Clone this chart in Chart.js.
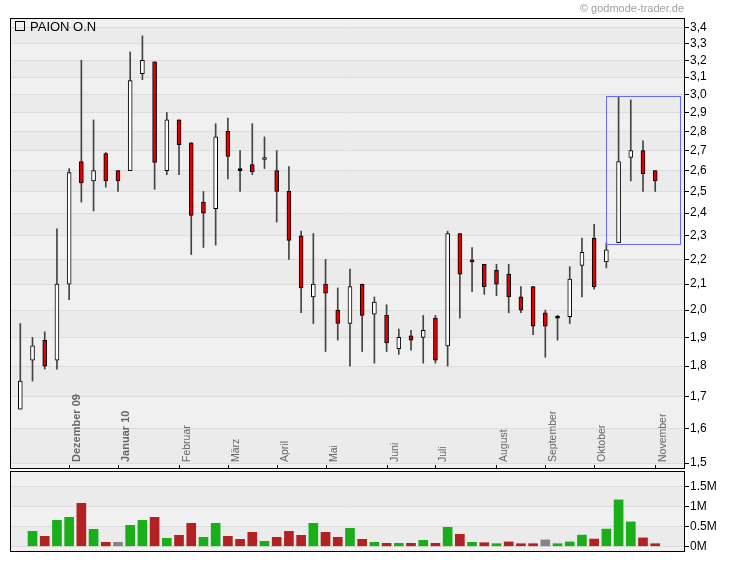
<!DOCTYPE html>
<html>
<head>
<meta charset="utf-8">
<script src="https://cdn.jsdelivr.net/npm/chart.js@4.4.0/dist/chart.umd.min.js"></script>
<style>
body { margin: 0; background: #fff; }
#wrap { position: relative; width: 730px; height: 564px; }
canvas { position: absolute; left: 0; }
#price { top: 0; }
#vol { top: 470px; }
</style>
</head>
<body>
<div id="wrap">
<canvas id="price" width="730" height="470"></canvas>
<canvas id="vol" width="730" height="94"></canvas>
</div>
<script>
// weekly candles, Nov 2009 - Nov 2010
const opens  = [1.66,1.82,1.89,1.82,2.10,2.645,2.55,2.685,2.60,2.60,3.12,3.19,2.60,2.86,2.74,2.45,2.42,2.80,2.60,2.63,2.655,2.60,2.50,2.30,2.05,2.10,2.00,1.95,2.10,1.985,1.98,1.86,1.905,1.90,1.97,1.87,2.31,2.195,2.18,2.155,2.14,2.05,2.09,1.99,1.97,1.975,2.175,2.29,2.19,2.27,2.665,2.70,2.60];
const highs  = [1.95,1.90,1.92,2.33,2.61,3.20,2.86,2.69,2.60,3.25,3.35,3.19,2.90,2.86,2.74,2.50,2.84,2.87,2.70,2.84,2.77,2.70,2.62,2.32,2.31,2.20,2.085,2.16,2.10,2.05,2.02,1.93,1.925,1.98,1.98,2.32,2.31,2.25,2.18,2.18,2.18,2.09,2.09,2.00,1.98,2.17,2.29,2.35,2.27,2.99,2.97,2.75,2.60];
const lows   = [1.66,1.75,1.79,1.79,2.04,2.45,2.41,2.52,2.50,2.60,3.085,2.51,2.58,2.58,2.22,2.25,2.26,2.56,2.50,2.58,2.61,2.36,2.20,1.99,1.95,1.85,1.89,1.80,1.85,1.81,1.85,1.84,1.855,1.81,1.81,1.80,1.97,2.07,2.06,2.055,1.99,1.99,1.91,1.83,1.89,1.95,2.05,2.08,2.165,2.27,2.55,2.50,2.50];
const closes = [1.75,1.87,1.80,2.10,2.59,2.54,2.60,2.55,2.55,3.08,3.20,2.64,2.86,2.73,2.39,2.40,2.77,2.67,2.60,2.595,2.665,2.50,2.28,2.085,2.10,2.065,1.95,2.09,1.98,2.03,1.88,1.90,1.89,1.925,1.82,2.31,2.14,2.19,2.09,2.10,2.05,2.00,1.94,1.94,1.97,2.12,2.23,2.09,2.24,2.645,2.70,2.585,2.55];
const volumes = [0,375000,250000,650000,725000,1075000,425000,100000,100000,525000,650000,725000,200000,275000,575000,225000,575000,250000,175000,350000,125000,225000,375000,275000,575000,350000,225000,450000,175000,100000,75000,75000,75000,150000,75000,475000,300000,100000,90000,65000,110000,65000,65000,160000,65000,110000,280000,180000,430000,1160000,610000,210000,65000];

const monthNames = ['Dezember 09','Januar 10','Februar','März','April','Mai','Juni','Juli','August','September','Oktober','November'];
const monthIdx   = [4,8,13,17,21,25,30,34,39,43,47,52];
const monthBold  = [true,true,false,false,false,false,false,false,false,false,false,false];

const priceTicks = [1.5,1.6,1.7,1.8,1.9,2.0,2.1,2.2,2.3,2.4,2.5,2.6,2.7,2.8,2.9,3.0,3.1,3.2,3.3,3.4];
const volTicks = [0,500000,1000000,1500000];

// marked zone (index range, price range)
const boxX = [48, 54];
const boxY = [2.265, 2.99];

const X_MIN = -0.844, X_MAX = 54.44;
const FONT = 'Liberation Sans, Arial, sans-serif';
Chart.defaults.font.family = FONT;

const idx = opens.map((_, i) => i);
const bodyColor = idx.map(i => closes[i] > opens[i] ? '#ffffff' : closes[i] < opens[i] ? '#e00000' : '#000000');
const volColor = idx.map(i => {
  if (!volumes[i]) return 'rgba(0,0,0,0)';
  if (i === 0 || closes[i] > closes[i-1]) return '#1aae1a';
  if (closes[i] < closes[i-1]) return '#b22222';
  return '#858585';
});

function bandPlugin(id) {
  return {
    id: id,
    beforeDraw(chart) {
      const {ctx, chartArea: a, scales: {y}} = chart;
      const edges = [a.top, a.bottom];
      y.ticks.forEach(t => edges.push(y.getPixelForValue(t.value)));
      edges.sort((p, q) => p - q);
      ctx.save();
      for (let k = 0; k < edges.length - 1; k++) {
        ctx.fillStyle = k % 2 === 0 ? '#f0f0f0' : '#ebebeb';
        ctx.fillRect(a.left, edges[k], a.right - a.left, edges[k+1] - edges[k]);
      }
      ctx.restore();
    }
  };
}

const framePlugin = {
  id: 'frame',
  afterDraw(chart) {
    const {ctx, chartArea: a} = chart;
    ctx.save();
    ctx.strokeStyle = '#000';
    ctx.lineWidth = 1;
    ctx.strokeRect(a.left + 0.5, a.top + 0.5, a.right - a.left - 1, a.bottom - a.top);
    ctx.restore();
  }
};

const pricePlugin = {
  id: 'priceExtras',
  beforeDatasetsDraw(chart) {
    const {ctx, chartArea: a, scales: {x}} = chart;
    ctx.save();
    ctx.fillStyle = '#666';
    monthIdx.forEach((m, k) => {
      const px = Math.round(x.getPixelForValue(m));
      ctx.save();
      ctx.translate(px + 11, a.bottom - 6);
      ctx.rotate(-Math.PI / 2);
      ctx.font = (monthBold[k] ? 'bold 11px ' : '10.5px ') + FONT;
      ctx.textAlign = 'left';
      ctx.fillText(monthNames[k], 0, 0);
      ctx.restore();
    });
    ctx.restore();
  },
  afterDatasetsDraw(chart) {
    const {ctx, chartArea: a, scales: {x, y}} = chart;
    ctx.save();
    // month ticks
    ctx.strokeStyle = '#000';
    ctx.lineWidth = 1;
    monthIdx.forEach(m => {
      const px = Math.round(x.getPixelForValue(m)) + 0.5;
      ctx.beginPath();
      ctx.moveTo(px, a.bottom - 3);
      ctx.lineTo(px, a.bottom);
      ctx.stroke();
    });
    // zone box
    const x0 = Math.round(x.getPixelForValue(boxX[0])) + 0.5;
    const x1 = Math.round(x.getPixelForValue(boxX[1])) + 0.5;
    const y0 = Math.round(y.getPixelForValue(boxY[1])) + 0.5;
    const y1 = Math.round(y.getPixelForValue(boxY[0])) + 0.5;
    ctx.strokeStyle = '#6868ff';
    ctx.strokeRect(x0, y0, x1 - x0, y1 - y0);
    // legend
    ctx.strokeStyle = '#000';
    ctx.strokeRect(15.5, 21.5, 9, 9);
    ctx.fillStyle = '#000';
    ctx.font = '13px ' + FONT;
    ctx.textAlign = 'left';
    ctx.fillText('PAION O.N', 30, 31);
    // source
    ctx.fillStyle = '#a0a0a0';
    ctx.font = '11px ' + FONT;
    ctx.textAlign = 'right';
    ctx.fillText('\u00a9 godmode-trader.de', 684, 12);
    ctx.restore();
  }
};

function rightAxisFit(s) {
  s.width = 45;
  s.paddingTop = 0;
  s.paddingBottom = 0;
}

const xScale = {type: 'linear', min: X_MIN, max: X_MAX, offset: false, display: false, grid: {offset: false}};

new Chart(document.getElementById('price'), {
  type: 'bar',
  data: {
    datasets: [
      {
        data: idx.map(i => ({x: i, y: [lows[i], highs[i]]})),
        backgroundColor: '#444444',
        barThickness: 1,
        grouped: false,
        order: 2
      },
      {
        data: idx.map(i => ({x: i, y: [opens[i], closes[i]]})),
        backgroundColor: bodyColor,
        borderColor: '#000',
        borderWidth: 1,
        borderSkipped: false,
        barThickness: 4,
        minBarLength: 2,
        grouped: false,
        order: 1
      }
    ]
  },
  options: {
    responsive: false,
    animation: false,
    devicePixelRatio: 1,
    layout: {padding: {left: 10, top: 18, bottom: 2, right: 0}},
    plugins: {legend: {display: false}, tooltip: {enabled: false}},
    scales: {
      x: xScale,
      y: {
        type: 'logarithmic',
        position: 'right',
        min: 1.486,
        max: 3.4645,
        afterBuildTicks(s) { s.ticks = priceTicks.map(v => ({value: v})); },
        afterFit: rightAxisFit,
        ticks: {
          color: '#000',
          font: {size: 12},
          padding: 1,
          autoSkip: false,
          callback: v => v.toFixed(1).replace('.', ',')
        },
        grid: {color: '#dcdcdc', tickColor: '#000', tickLength: 4},
        border: {display: false}
      }
    }
  },
  plugins: [bandPlugin('pbands'), pricePlugin, framePlugin]
});

new Chart(document.getElementById('vol'), {
  type: 'bar',
  data: {
    datasets: [{
      data: idx.map(i => ({x: i, y: volumes[i]})),
      backgroundColor: volColor,
      barThickness: 9
    }]
  },
  options: {
    responsive: false,
    animation: false,
    devicePixelRatio: 1,
    layout: {padding: {left: 10, top: 1, bottom: 13, right: 0}},
    plugins: {legend: {display: false}, tooltip: {enabled: false}},
    scales: {
      x: xScale,
      y: {
        position: 'right',
        min: -117500,
        max: 1882500,
        afterBuildTicks(s) { s.ticks = volTicks.map(v => ({value: v})); },
        afterFit: rightAxisFit,
        ticks: {
          color: '#000',
          font: {size: 12},
          padding: 1,
          callback: v => (v / 1e6) + 'M'
        },
        grid: {color: '#dcdcdc', tickColor: '#000', tickLength: 4},
        border: {display: false}
      }
    }
  },
  plugins: [bandPlugin('vbands'), framePlugin]
});
</script>
</body>
</html>
